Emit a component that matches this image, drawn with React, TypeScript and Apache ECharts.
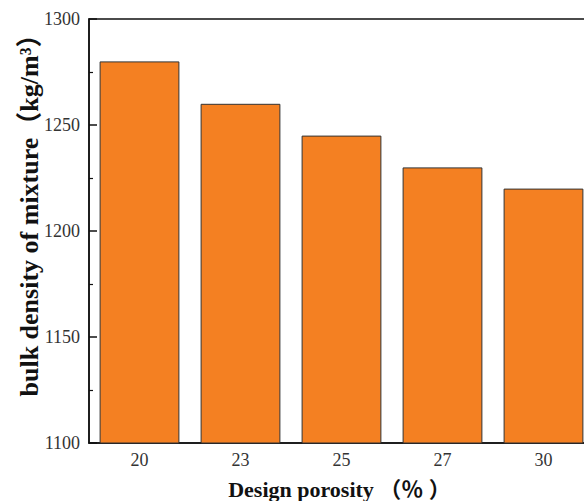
import React, { useEffect, useRef } from "react";
import * as echarts from "echarts";

const categories = ["20", "23", "25", "27", "30"];
const densityValues = [1280, 1260, 1245, 1230, 1220];
const yMin = 1100;
const yMax = 1300;
const yInterval = 50;

export default function App() {
  const ref = useRef<HTMLDivElement>(null);
  useEffect(() => {
    if (!ref.current) return;
    const chart = echarts.init(ref.current, undefined, { renderer: "svg" });
    const serif = "'Liberation Serif', 'Times New Roman', 'Noto Sans CJK SC', serif";
    chart.setOption({
      animation: false,
      backgroundColor: "#fff",
      grid: {
        left: 89,
        top: 19,
        bottom: 58,
        right: -10,
        containLabel: false,
        outerBoundsMode: "none",
        show: true,
        borderColor: "#111",
        borderWidth: 1.5,
        backgroundColor: "transparent",
      },
      xAxis: {
        type: "category",
        data: categories,
        name: "Design porosity （％ ）",
        nameLocation: "middle",
        nameGap: 35,
        nameMoveOverlap: false,
        nameTextStyle: {
          fontFamily: serif,
          fontWeight: "bold",
          fontSize: 22,
          color: "#111",
          padding: [0, 4, 0, 0],
        },
        axisLine: { lineStyle: { color: "#111", width: 1.5 } },
        axisTick: {
          show: true,
          inside: true,
          alignWithLabel: true,
          length: 8,
          lineStyle: { color: "#111", width: 1.5 },
        },
        axisLabel: {
          fontFamily: serif,
          fontSize: 18,
          color: "#333",
          margin: 8,
        },
      },
      yAxis: {
        type: "value",
        min: yMin,
        max: yMax,
        interval: yInterval,
        name: "bulk density of mixture（kg/m³）",
        nameLocation: "middle",
        nameGap: 47,
        nameMoveOverlap: false,
        nameRotate: 90,
        nameTextStyle: {
          fontFamily: serif,
          fontWeight: "bold",
          fontSize: 26,
          color: "#111",
          padding: [0, 0, 0, 44],
        },
        splitLine: { show: false },
        axisLine: { show: true, lineStyle: { color: "#111", width: 1.5 } },
        axisTick: {
          show: true,
          inside: true,
          length: 8,
          lineStyle: { color: "#111", width: 1.5 },
        },
        minorTick: {
          show: true,
          splitNumber: 2,
          length: 4,
          lineStyle: { color: "#111", width: 1.2 },
        },
        axisLabel: {
          fontFamily: serif,
          fontSize: 18,
          color: "#333",
          margin: 9,
          formatter: (v: number) => String(v),
        },
      },
      series: [
        {
          type: "bar",
          data: densityValues,
          barCategoryGap: "21%",
          itemStyle: {
            color: "#F48022",
            borderColor: "#333",
            borderWidth: 1,
          },
        },
      ],
    });
    return () => chart.dispose();
  }, []);
  return (
    <div
      ref={ref}
      style={{ position: "fixed", left: 0, top: 0, width: 584, height: 501 }}
    />
  );
}
